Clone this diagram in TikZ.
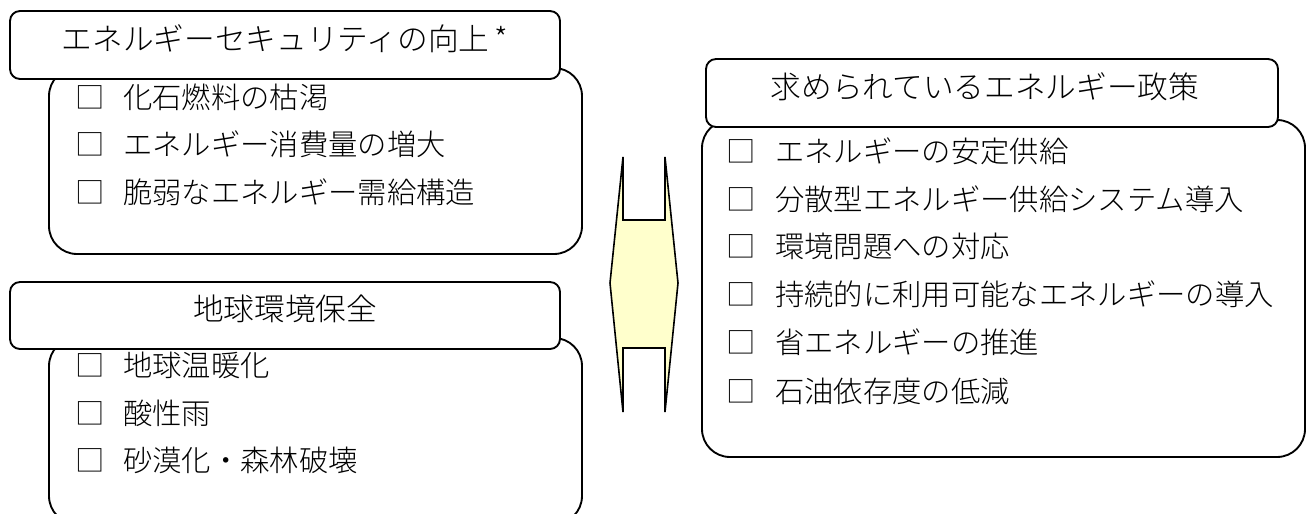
\documentclass[tikz,border=0pt]{standalone}
\usepackage{fontspec}
\IfFontExistsTF{Noto Sans CJK JP Light}{\setmainfont{Noto Sans CJK JP Light}}{\setmainfont{Noto Sans CJK JP}}
\definecolor{arrowyellow}{HTML}{FFFFCC}
\tikzset{
	bodybox/.style={line width=1.4pt, rounded corners=21pt, fill=white},
	headbox/.style={line width=1.4pt, rounded corners=7.5pt, fill=white},
	headtext/.style={inner sep=0pt, text height=0.88em, text depth=0.12em, font=\fontsize{23}{27}\selectfont},
	chk/.style={inner sep=0pt, text height=0.88em, text depth=0.12em, font=\fontsize{22}{26}\selectfont},
	item/.style={anchor=west, inner sep=0pt, text height=0.88em, text depth=0.12em, font=\fontsize{22}{26}\selectfont},
}
\begin{document}
\begin{tikzpicture}[x=0.75pt, y=-0.75pt]
		%%%%% START %%%%%
		\useasboundingbox (0, 0) rectangle (1311, 514);
		\clip (0, 0) rectangle (1311, 514);
		
		% energy security
		\draw[bodybox] (49, 68) rectangle (582, 254);
		\draw[headbox] (10, 11) rectangle (560, 79);
		\node[headtext] (secHead) at (285, 45) {エネルギーセキュリティの向上\,*};
		\node[chk] (secChkA) at (90, 103) {□};
		\node[item] (secA) at (123, 103) {化石燃料の枯渇};
		\node[chk] (secChkB) at (90, 150) {□};
		\node[item] (secB) at (123, 150) {エネルギー消費量の増大};
		\node[chk] (secChkC) at (90, 198) {□};
		\node[item] (secC) at (123, 198) {脆弱なエネルギー需給構造};
		
		% global environment
		\draw[bodybox] (49, 338) rectangle (582, 524);
		\draw[headbox] (10, 282) rectangle (560, 349);
		\node[headtext] (envHead) at (285, 315) {地球環境保全};
		\node[chk] (envChkA) at (90, 371) {□};
		\node[item] (envA) at (123, 371) {地球温暖化};
		\node[chk] (envChkB) at (90, 419) {□};
		\node[item] (envB) at (123, 419) {酸性雨};
		\node[chk] (envChkC) at (90, 466) {□};
		\node[item] (envC) at (123, 466) {砂漠化・森林破壊};
		
		% double arrow
		\draw[line width=1.2pt, fill=arrowyellow] (623, 157) -- (623, 220) -- (665, 220) -- (665, 157) -- (678, 283) -- (665, 412) -- (665, 348) -- (623, 348) -- (623, 412) -- (610, 283) -- cycle;
		
		% energy policy
		\draw[bodybox] (702, 120) rectangle (1305, 457);
		\draw[headbox] (706, 59) rectangle (1278, 127);
		\node[headtext] (polHead) at (985, 93) {求められているエネルギー政策};
		\node[chk] (polChkA) at (741, 157) {□};
		\node[item] (polA) at (775, 157) {エネルギーの安定供給};
		\node[chk] (polChkB) at (741, 205) {□};
		\node[item] (polB) at (775, 205) {分散型エネルギー供給システム導入};
		\node[chk] (polChkC) at (741, 252) {□};
		\node[item] (polC) at (775, 252) {環境問題への対応};
		\node[chk] (polChkD) at (741, 300) {□};
		\node[item] (polD) at (775, 300) {持続的に利用可能なエネルギーの導入};
		\node[chk] (polChkE) at (741, 348) {□};
		\node[item] (polE) at (775, 348) {省エネルギーの推進};
		\node[chk] (polChkF) at (741, 397) {□};
		\node[item] (polF) at (775, 397) {石油依存度の低減};
		%%%%% END %%%%%
\end{tikzpicture}
\end{document}
